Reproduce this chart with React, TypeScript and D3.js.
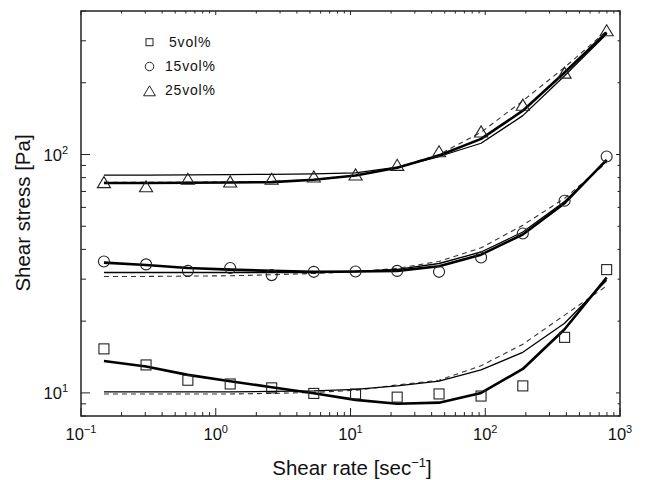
import React, { useEffect, useRef } from "react";
import * as d3 from "d3";

// shear rate of each measurement [1/s]
const shearRate = [0.148, 0.304, 0.621, 1.28, 2.6, 5.34, 10.9, 22.2, 45.4, 93.1, 190, 388, 796];

// measured shear stress [Pa]
const stress5 = [15.3, 13.1, 11.3, 10.9, 10.5, 9.95, 9.9, 9.6, 9.9, 9.7, 10.7, 17.1, 32.9];
const stress15 = [35.6, 34.6, 32.5, 33.4, 31.2, 32.2, 32.3, 32.5, 32.2, 37.0, 46.6, 64.0, 98.1];
const stress25 = [76.6, 73.6, 79.1, 77.1, 79.1, 80.9, 82.5, 90.5, 103.2, 125, 161.8, 220.6, 332];

// model curves: thick solid, thin solid, dashed
const thick5 = [13.6, 12.9, 11.9, 11.2, 10.56, 9.97, 9.35, 9.0, 9.1, 10.0, 12.6, 18.5, 30.5];
const thin5 = [10.1, 10.1, 10.1, 10.1, 10.15, 10.2, 10.35, 10.7, 11.2, 12.5, 14.8, 19.6, 29.7];
const dash5 = [9.9, 9.9, 9.9, 9.9, 9.95, 10.05, 10.25, 10.8, 11.3, 13.0, 16.0, 21.2, 28.1];

const thick15 = [35.2, 34.4, 33.4, 32.9, 32.5, 32.2, 32.3, 32.5, 34.0, 38.0, 46.2, 62.5, 95.0];
const thin15 = [32.0, 32.0, 32.0, 32.0, 32.0, 32.0, 32.3, 33.0, 34.9, 39.0, 47.3, 63.5, 94.4];
const dash15 = [30.8, 30.8, 30.9, 31.0, 31.3, 31.7, 32.2, 33.3, 35.6, 40.6, 50.5, 65.5, 92.6];

const thick25 = [75.9, 76.0, 76.1, 76.3, 76.6, 78.4, 81.7, 88.0, 99.0, 116.3, 152.7, 220.9, 325];
const thin25 = [81.9, 82.0, 82.1, 82.3, 82.6, 83.0, 83.8, 88.5, 98.1, 111.5, 145.6, 214, 320];
const dash25 = [76.4, 76.4, 76.5, 76.7, 77.0, 78.6, 81.9, 88.2, 100, 124, 168, 232, 330];

const seriesNames = ["5vol%", "15vol%", "25vol%"];
const markerKinds = ["square", "circle", "triangle"];
const xTickExps = [-1, 0, 1, 2, 3];
const yTickExps = [1, 2];

const FONT = "'Liberation Sans', Arial, Helvetica, sans-serif";

export default function App() {
  const ref = useRef<SVGSVGElement>(null);

  useEffect(() => {
    const svg = d3.select(ref.current);
    svg.selectAll("*").remove();

    const x = d3.scaleLog().domain([0.1, 1000]).range([81, 620]);
    const y = d3.scaleLog().domain([8, 400]).range([416, 11]);
    const [x0, x1] = x.range();
    const [yb, yt] = y.range();

    const g = svg.append("g").style("font-family", FONT).style("fill", "#111");

    // ticks (all pointing inward)
    const xMinor: number[] = [];
    for (let e = -1; e < 3; e++) for (let m = 1; m <= 9; m++) xMinor.push(m * Math.pow(10, e));
    xMinor.push(1000);
    const yMinor: number[] = [];
    for (let e = 0; e < 3; e++) for (let m = 1; m <= 9; m++) {
      const v = m * Math.pow(10, e);
      if (v >= 8 && v <= 400) yMinor.push(v);
    }
    const isMajor = (v: number) => Math.abs(Math.log10(v) - Math.round(Math.log10(v))) < 1e-9;

    const tickG = g.append("g").attr("stroke", "#222").attr("stroke-width", 1);
    xMinor.forEach((v) => {
      const px = x(v);
      const major = isMajor(v);
      tickG.append("line").attr("x1", px).attr("x2", px).attr("y1", yb).attr("y2", yb - (major ? 8 : 4));
      tickG.append("line").attr("x1", px).attr("x2", px).attr("y1", yt).attr("y2", yt + (major ? 4 : 2.5));
    });
    yMinor.forEach((v) => {
      const py = y(v);
      const major = isMajor(v);
      tickG.append("line").attr("x1", x0).attr("x2", x0 + (major ? 9 : 5)).attr("y1", py).attr("y2", py);
      tickG.append("line").attr("x1", x1).attr("x2", x1 - (major ? 4 : 2.5)).attr("y1", py).attr("y2", py);
    });

    // frame
    g.append("rect")
      .attr("x", x0).attr("y", yt).attr("width", x1 - x0).attr("height", yb - yt)
      .attr("fill", "none").attr("stroke", "#222").attr("stroke-width", 1.5);

    // tick labels
    xTickExps.forEach((e) => {
      const t = g.append("text")
        .attr("x", x(Math.pow(10, e))).attr("y", 440)
        .attr("text-anchor", "middle").style("font-size", "16.5px");
      t.append("tspan").text("10");
      t.append("tspan").attr("dy", -7).style("font-size", "11px").text(e < 0 ? "\u2212" + Math.abs(e) : String(e));
    });
    yTickExps.forEach((e) => {
      const t = g.append("text")
        .attr("x", 68).attr("y", y(Math.pow(10, e)) + 6)
        .attr("text-anchor", "end").style("font-size", "16.5px");
      t.append("tspan").text("10");
      t.append("tspan").attr("dy", -7).style("font-size", "11px").text(String(e));
    });

    // axis titles
    const xt = g.append("text").attr("x", 352).attr("y", 475)
      .attr("text-anchor", "middle").style("font-size", "20.5px");
    xt.append("tspan").text("Shear rate [sec");
    xt.append("tspan").attr("dy", -8).style("font-size", "13px").text("\u22121");
    xt.append("tspan").attr("dy", 8).text("]");

    g.append("text")
      .attr("transform", "translate(29.5,213) rotate(-90)")
      .attr("text-anchor", "middle").style("font-size", "20.5px")
      .text("Shear stress [Pa]");

    // curves
    const line = d3.line<number>()
      .x((_, i) => x(shearRate[i]))
      .y((d) => y(d));

    const curves: [number[], string][] = [
      [dash5, "dash"], [thin5, "thin"], [thick5, "thick"],
      [dash15, "dash"], [thin15, "thin"], [thick15, "thick"],
      [dash25, "dash"], [thin25, "thin"], [thick25, "thick"],
    ];
    curves.forEach(([vals, kind]) => {
      g.append("path")
        .attr("d", line(vals))
        .attr("fill", "none")
        .attr("stroke", kind === "dash" ? "#333" : "#000")
        .attr("stroke-width", kind === "thick" ? 2.6 : kind === "thin" ? 1.3 : 1.1)
        .attr("stroke-dasharray", kind === "dash" ? "5,4" : null)
        .attr("stroke-linejoin", "round");
    });

    // markers
    const drawMarker = (sel: any, kind: string, cx: number, cy: number, s: number) => {
      if (kind === "square") {
        sel.append("rect").attr("x", cx - s / 2).attr("y", cy - s / 2).attr("width", s).attr("height", s);
      } else if (kind === "circle") {
        sel.append("circle").attr("cx", cx).attr("cy", cy).attr("r", s / 2);
      } else {
        const w = s * 1.25, h = s * 1.05;
        sel.append("path").attr("d", `M${cx - w / 2},${cy + h / 2}L${cx + w / 2},${cy + h / 2}L${cx},${cy - h / 2}Z`);
      }
    };

    const markG = g.append("g").attr("fill", "none").attr("stroke", "#222").attr("stroke-width", 1.1);
    [stress5, stress15, stress25].forEach((vals, si) => {
      vals.forEach((v, i) => drawMarker(markG, markerKinds[si], x(shearRate[i]), y(v), si === 0 ? 10 : si === 1 ? 11 : 10.5));
    });

    // legend
    const legG = g.append("g");
    seriesNames.forEach((name, i) => {
      const base = 46.7 + i * 24.3;
      const sizes = [7, 8.5, 9.5];
      const mg = legG.append("g").attr("fill", "none").attr("stroke", "#222").attr("stroke-width", 1);
      drawMarker(mg, markerKinds[i], 149.5, base - 4.5, sizes[i]);
      legG.append("text")
        .attr("x", name.length === 5 ? 169 : 165).attr("y", base)
        .style("font-size", "14px").style("letter-spacing", "0.8px")
        .text(name);
    });
  }, []);

  return (
    <svg
      ref={ref}
      width={650}
      height={480}
      style={{ position: "absolute", left: 0, top: 0, background: "#fff" }}
    />
  );
}
